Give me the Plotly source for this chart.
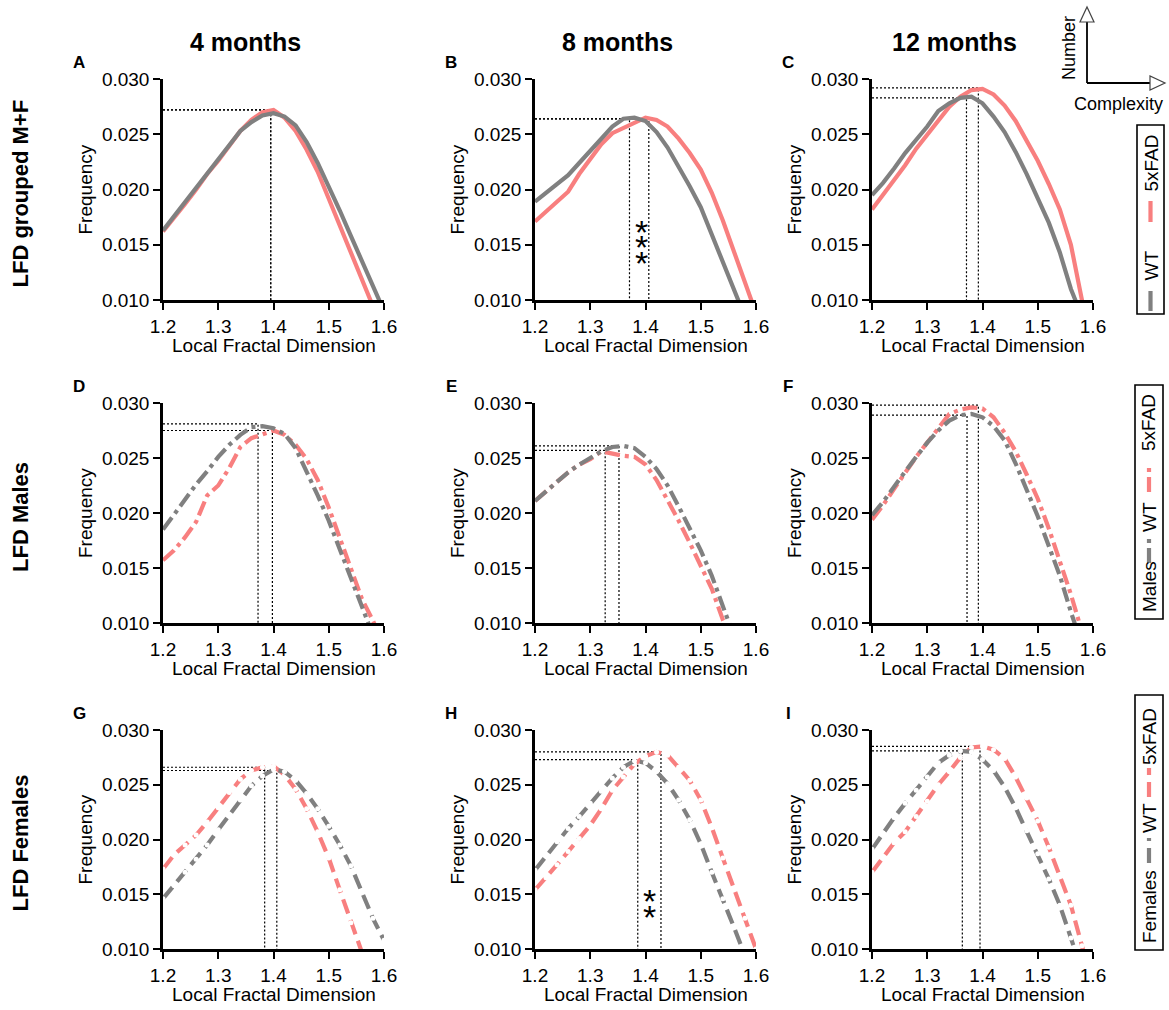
import plotly.graph_objects as go

# ---------------- data ----------------
LFD = [1.20, 1.22, 1.24, 1.26, 1.28, 1.30, 1.32, 1.34, 1.36, 1.38, 1.40,
       1.42, 1.44, 1.46, 1.48, 1.50, 1.52, 1.54, 1.56, 1.58, 1.60]

AGES = ["4 months", "8 months", "12 months"]
GROUPS = ["LFD grouped M+F", "LFD Males", "LFD Females"]
GROUP_KEYS = ["", "Males", "Females"]
GENOTYPES = ["WT", "5xFAD"]
PANEL_LETTERS = ["A", "B", "C", "D", "E", "F", "G", "H", "I"]
X_TICKS = [1.2, 1.3, 1.4, 1.5, 1.6]
Y_TICKS = [0.010, 0.015, 0.020, 0.025, 0.030]

# M+F grouped
WT_ALL_4M = [0.0163, 0.0176, 0.0188, 0.0201, 0.0215, 0.0228, 0.0240, 0.0253, 0.0261, 0.0267, 0.0269,
             0.0266, 0.0258, 0.0243, 0.0224, 0.0203, 0.0181, 0.0158, 0.0135, 0.0112, 0.0090]
FAD_ALL_4M = [0.0162, 0.0174, 0.0187, 0.0200, 0.0214, 0.0226, 0.0240, 0.0253, 0.0263, 0.0270, 0.0272,
              0.0265, 0.0253, 0.0236, 0.0216, 0.0192, 0.0169, 0.0145, 0.0120, 0.0094, 0.0070]
WT_ALL_8M = [0.0189, 0.0197, 0.0205, 0.0213, 0.0224, 0.0235, 0.0247, 0.0257, 0.0264, 0.0265, 0.0262,
             0.0252, 0.0238, 0.0221, 0.0203, 0.0184, 0.0159, 0.0135, 0.0110, 0.0085, 0.0060]
FAD_ALL_8M = [0.0171, 0.0180, 0.0189, 0.0198, 0.0214, 0.0227, 0.0241, 0.0251, 0.0256, 0.0260, 0.0265,
              0.0263, 0.0257, 0.0246, 0.0233, 0.0218, 0.0197, 0.0172, 0.0144, 0.0114, 0.0088]
WT_ALL_12M = [0.0195, 0.0206, 0.0219, 0.0233, 0.0245, 0.0257, 0.0271, 0.0278, 0.0283, 0.0284, 0.0278,
              0.0266, 0.0252, 0.0234, 0.0214, 0.0193, 0.0170, 0.0143, 0.0110, 0.0085, 0.0060]
FAD_ALL_12M = [0.0182, 0.0195, 0.0209, 0.0222, 0.0237, 0.0250, 0.0263, 0.0275, 0.0284, 0.0290, 0.0291,
               0.0286, 0.0276, 0.0262, 0.0244, 0.0226, 0.0205, 0.0182, 0.0150, 0.0098, 0.0050]
# Males
WT_M_4M = [0.0185, 0.0199, 0.0213, 0.0226, 0.0238, 0.0251, 0.0262, 0.0271, 0.0278, 0.0279, 0.0277,
           0.0272, 0.0259, 0.0238, 0.0216, 0.0193, 0.0167, 0.0141, 0.0115, 0.0089, 0.0063]
FAD_M_4M = [0.0157, 0.0166, 0.0178, 0.0192, 0.0216, 0.0225, 0.0241, 0.0260, 0.0268, 0.0272, 0.0275,
            0.0271, 0.0262, 0.0249, 0.0230, 0.0205, 0.0177, 0.0148, 0.0122, 0.0102, 0.0080]
WT_M_8M = [0.0211, 0.0220, 0.0229, 0.0237, 0.0244, 0.0250, 0.0256, 0.0260, 0.0261, 0.0259, 0.0251,
           0.0240, 0.0225, 0.0206, 0.0186, 0.0166, 0.0143, 0.0114, 0.0085, 0.0060, 0.0040]
FAD_M_8M = [0.0211, 0.0220, 0.0229, 0.0237, 0.0244, 0.0249, 0.0256, 0.0254, 0.0252, 0.0251, 0.0244,
            0.0230, 0.0212, 0.0193, 0.0173, 0.0153, 0.0131, 0.0103, 0.0075, 0.0050, 0.0030]
WT_M_12M = [0.0198, 0.0210, 0.0224, 0.0238, 0.0251, 0.0264, 0.0275, 0.0284, 0.0289, 0.0290, 0.0287,
            0.0279, 0.0266, 0.0245, 0.0222, 0.0197, 0.0170, 0.0143, 0.0110, 0.0078, 0.0050]
FAD_M_12M = [0.0194, 0.0207, 0.0222, 0.0237, 0.0251, 0.0264, 0.0277, 0.0290, 0.0294, 0.0296, 0.0295,
             0.0287, 0.0273, 0.0256, 0.0235, 0.0213, 0.0186, 0.0157, 0.0126, 0.0092, 0.0060]
# Females
WT_F_4M = [0.0146, 0.0158, 0.0170, 0.0182, 0.0195, 0.0209, 0.0222, 0.0236, 0.0249, 0.0258, 0.0264,
           0.0262, 0.0254, 0.0242, 0.0228, 0.0212, 0.0195, 0.0176, 0.0153, 0.0128, 0.0108]
FAD_F_4M = [0.0173, 0.0186, 0.0195, 0.0204, 0.0216, 0.0229, 0.0243, 0.0255, 0.0263, 0.0266, 0.0267,
            0.0259, 0.0246, 0.0228, 0.0207, 0.0183, 0.0154, 0.0124, 0.0094, 0.0065, 0.0040]
WT_F_8M = [0.0172, 0.0185, 0.0198, 0.0210, 0.0221, 0.0233, 0.0244, 0.0256, 0.0266, 0.0272, 0.0270,
           0.0262, 0.0251, 0.0236, 0.0218, 0.0196, 0.0170, 0.0146, 0.0120, 0.0094, 0.0070]
FAD_F_8M = [0.0154, 0.0165, 0.0177, 0.0189, 0.0201, 0.0213, 0.0228, 0.0245, 0.0257, 0.0269, 0.0276,
            0.0280, 0.0277, 0.0266, 0.0254, 0.0236, 0.0211, 0.0183, 0.0155, 0.0128, 0.0100]
WT_F_12M = [0.0191, 0.0206, 0.0220, 0.0233, 0.0245, 0.0257, 0.0270, 0.0277, 0.0281, 0.0280, 0.0273,
            0.0263, 0.0248, 0.0229, 0.0208, 0.0187, 0.0164, 0.0140, 0.0110, 0.0080, 0.0050]
FAD_F_12M = [0.0170, 0.0183, 0.0197, 0.0207, 0.0221, 0.0235, 0.0250, 0.0262, 0.0275, 0.0284, 0.0285,
             0.0282, 0.0274, 0.0257, 0.0238, 0.0217, 0.0193, 0.0167, 0.0140, 0.0103, 0.0065]

SERIES_WT = [WT_ALL_4M, WT_ALL_8M, WT_ALL_12M, WT_M_4M, WT_M_8M, WT_M_12M, WT_F_4M, WT_F_8M, WT_F_12M]
SERIES_FAD = [FAD_ALL_4M, FAD_ALL_8M, FAD_ALL_12M, FAD_M_4M, FAD_M_8M, FAD_M_12M, FAD_F_4M, FAD_F_8M, FAD_F_12M]

# peak (mode) of each distribution, marked with dotted guides
PEAK_WT_X = [1.395, 1.371, 1.371, 1.372, 1.352, 1.372, 1.406, 1.386, 1.3635]
PEAK_WT_Y = [0.0272, 0.0264, 0.0283, 0.0281, 0.0261, 0.0289, 0.0263, 0.0273, 0.0281]
PEAK_FAD_X = [1.395, 1.406, 1.3925, 1.398, 1.327, 1.3925, 1.384, 1.428, 1.3955]
PEAK_FAD_Y = [0.0272, 0.0264, 0.0292, 0.0275, 0.0257, 0.0298, 0.0266, 0.0280, 0.0285]

# significance marks
SIG_PANELS = [1, 7]
SIG_LABELS = ["***", "**"]
SIG_X = [1.392, 1.408]
SIG_Y = [[0.0167, 0.0153, 0.0139], [0.0149, 0.0135]]

# ---------------- style ----------------
W, H = 1169, 1010
FONT = "Liberation Sans, Arial, Helvetica, sans-serif"
GREY = "#808080"
RED = "#F87F7F"
COL_PX = [(163, 384), (535, 756), (872, 1093)]
ROW_PX = [(79, 300), (403, 623), (730, 949)]
ROW_DASH = ["solid", "15px,5px,4px,5px", "15px,7px"]
LW = 4.2


def px(x):
    return x / W


def py(y):
    return 1 - y / H


def note(x, y, text, size, angle=0, **kw):
    return dict(x=x, y=y, xref=kw.pop("xref", "paper"), yref=kw.pop("yref", "paper"),
                text=text, textangle=angle, showarrow=False, xanchor="center", yanchor="middle",
                font=dict(family=FONT, size=size, color="black"), **kw)


fig = go.Figure()
annotations = []
shapes = []
layout = {}

for i in range(9):
    r, c = divmod(i, 3)
    n = "" if i == 0 else str(i + 1)
    xa, ya = "x" + n, "y" + n
    x0, x1 = COL_PX[c]
    y0, y1 = ROW_PX[r]
    layout["xaxis" + n] = dict(
        domain=[px(x0), px(x1)], anchor=ya, range=[1.2, 1.6], automargin=False,
        tickvals=X_TICKS, ticktext=["%.1f" % v for v in X_TICKS],
        showline=True, linecolor="black", linewidth=2.5,
        ticks="outside", ticklen=7, tickwidth=2.2, tickcolor="black",
        showgrid=False, zeroline=False, tickfont=dict(family=FONT, size=19, color="black"))
    layout["yaxis" + n] = dict(
        domain=[py(y1), py(y0)], anchor=xa, range=[0.010, 0.030], automargin=False,
        tickvals=Y_TICKS, ticktext=["%.3f" % v for v in Y_TICKS],
        showline=True, linecolor="black", linewidth=2.5,
        ticks="outside", ticklen=7, tickwidth=2.2, tickcolor="black",
        showgrid=False, zeroline=False, tickfont=dict(family=FONT, size=19, color="black"))

    # dotted peak guides
    for pxv, pyv in ((PEAK_WT_X[i], PEAK_WT_Y[i]), (PEAK_FAD_X[i], PEAK_FAD_Y[i])):
        fig.add_trace(go.Scatter(x=[1.2, pxv, pxv], y=[pyv, pyv, 0.010], xaxis=xa, yaxis=ya,
                                 mode="lines", line=dict(color="black", width=1.2, dash="2px,2px"),
                                 hoverinfo="skip"))

    mode = "lines+markers" if r == 2 else "lines"
    for vals, col, name in ((SERIES_FAD[i], RED, GENOTYPES[1]), (SERIES_WT[i], GREY, GENOTYPES[0])):
        fig.add_trace(go.Scatter(x=LFD, y=vals, xaxis=xa, yaxis=ya, name=name, mode=mode,
                                 line=dict(color=col, width=LW, dash=ROW_DASH[r]),
                                 marker=dict(color="white", size=5, line=dict(width=0))))

    annotations.append(note(px(x0 - 78), py((y0 + y1) / 2), "Frequency", 19, -90))
    annotations.append(note(px((x0 + x1) / 2), py(y1 + 45), "Local Fractal Dimension", 19))
    annotations.append(note(px(x0 - 84), py(y0 - 17), "<b>%s</b>" % PANEL_LETTERS[i], 17))

# significance asterisks
for k, p in enumerate(SIG_PANELS):
    n = "" if p == 0 else str(p + 1)
    for j, ch in enumerate(SIG_LABELS[k]):
        annotations.append(note(SIG_X[k], SIG_Y[k][j], ch, 34, xref="x" + n, yref="y" + n, yshift=-6))

# column titles
for c, t in enumerate(AGES):
    x0, x1 = COL_PX[c]
    annotations.append(note(px((x0 + x1) / 2 - 28), py(42), "<b>%s</b>" % t, 25))
# row titles
for r, t in enumerate(GROUPS):
    y0, y1 = ROW_PX[r]
    annotations.append(note(px(20), py((y0 + y1) / 2 + 4), "<b>%s</b>" % t, 22, -90))

# custom vertical legends
LEG = [
    dict(box=(1137, 1164, 125, 314), items=[("line", GREY, 311, 291), ("text", GENOTYPES[0], 266),
                                             ("line", RED, 222, 201), ("text", GENOTYPES[1], 163)]),
    dict(box=(1135, 1163, 385, 619), items=[("text", GROUP_KEYS[1], 587), ("line", GREY, 563, 538),
                                             ("text", GENOTYPES[0], 517), ("line", RED, 492, 466),
                                             ("text", GENOTYPES[1], 423)]),
    dict(box=(1135, 1163, 695, 950), items=[("text", GROUP_KEYS[2], 907), ("line", GREY, 863, 838),
                                             ("text", GENOTYPES[0], 818), ("line", RED, 797, 768),
                                             ("text", GENOTYPES[1], 737)]),
]
for r, lg in enumerate(LEG):
    bx0, bx1, by0, by1 = lg["box"]
    cx = (bx0 + bx1) / 2
    shapes.append(dict(type="rect", xref="paper", yref="paper", x0=px(bx0), x1=px(bx1),
                       y0=py(by1), y1=py(by0), line=dict(color="black", width=1.6)))
    for it in lg["items"]:
        if it[0] == "line":
            shapes.append(dict(type="line", xref="paper", yref="paper", x0=px(cx), x1=px(cx),
                               y0=py(it[2]), y1=py(it[3]),
                               line=dict(color=it[1], width=LW, dash=ROW_DASH[r])))
        else:
            annotations.append(note(px(cx), py(it[2]), it[1], 19, -90))

# schematic axes (Number vs Complexity)
ox, oy = 1087, 83
shapes.append(dict(type="line", xref="paper", yref="paper", x0=px(ox), y0=py(oy), x1=px(ox), y1=py(22),
                   line=dict(color="black", width=1.8)))
shapes.append(dict(type="line", xref="paper", yref="paper", x0=px(ox), y0=py(oy), x1=px(1150), y1=py(oy),
                   line=dict(color="black", width=1.8)))
shapes.append(dict(type="path", xref="paper", yref="paper",
                   path="M %f,%f L %f,%f L %f,%f Z" % (px(ox - 7), py(22), px(ox + 7), py(22), px(ox), py(7)),
                   line=dict(color="#444444", width=1.2), fillcolor="white"))
shapes.append(dict(type="path", xref="paper", yref="paper",
                   path="M %f,%f L %f,%f L %f,%f Z" % (px(1150), py(oy - 7), px(1150), py(oy + 7), px(1165), py(oy)),
                   line=dict(color="#444444", width=1.2), fillcolor="white"))
annotations.append(note(px(1069), py(48), "Number", 18, -90))
annotations.append(note(px(1118), py(104), "Complexity", 18))

fig.update_layout(**layout)
fig.update_layout(width=W, height=H, margin=dict(l=0, r=0, t=0, b=0, autoexpand=False),
                  paper_bgcolor="white", plot_bgcolor="white", showlegend=False,
                  annotations=annotations, shapes=shapes, font=dict(family=FONT))
fig.write_html("out.html", config={"displayModeBar": False},
               post_script="document.body.style.margin='0';document.body.style.overflow='hidden';")
